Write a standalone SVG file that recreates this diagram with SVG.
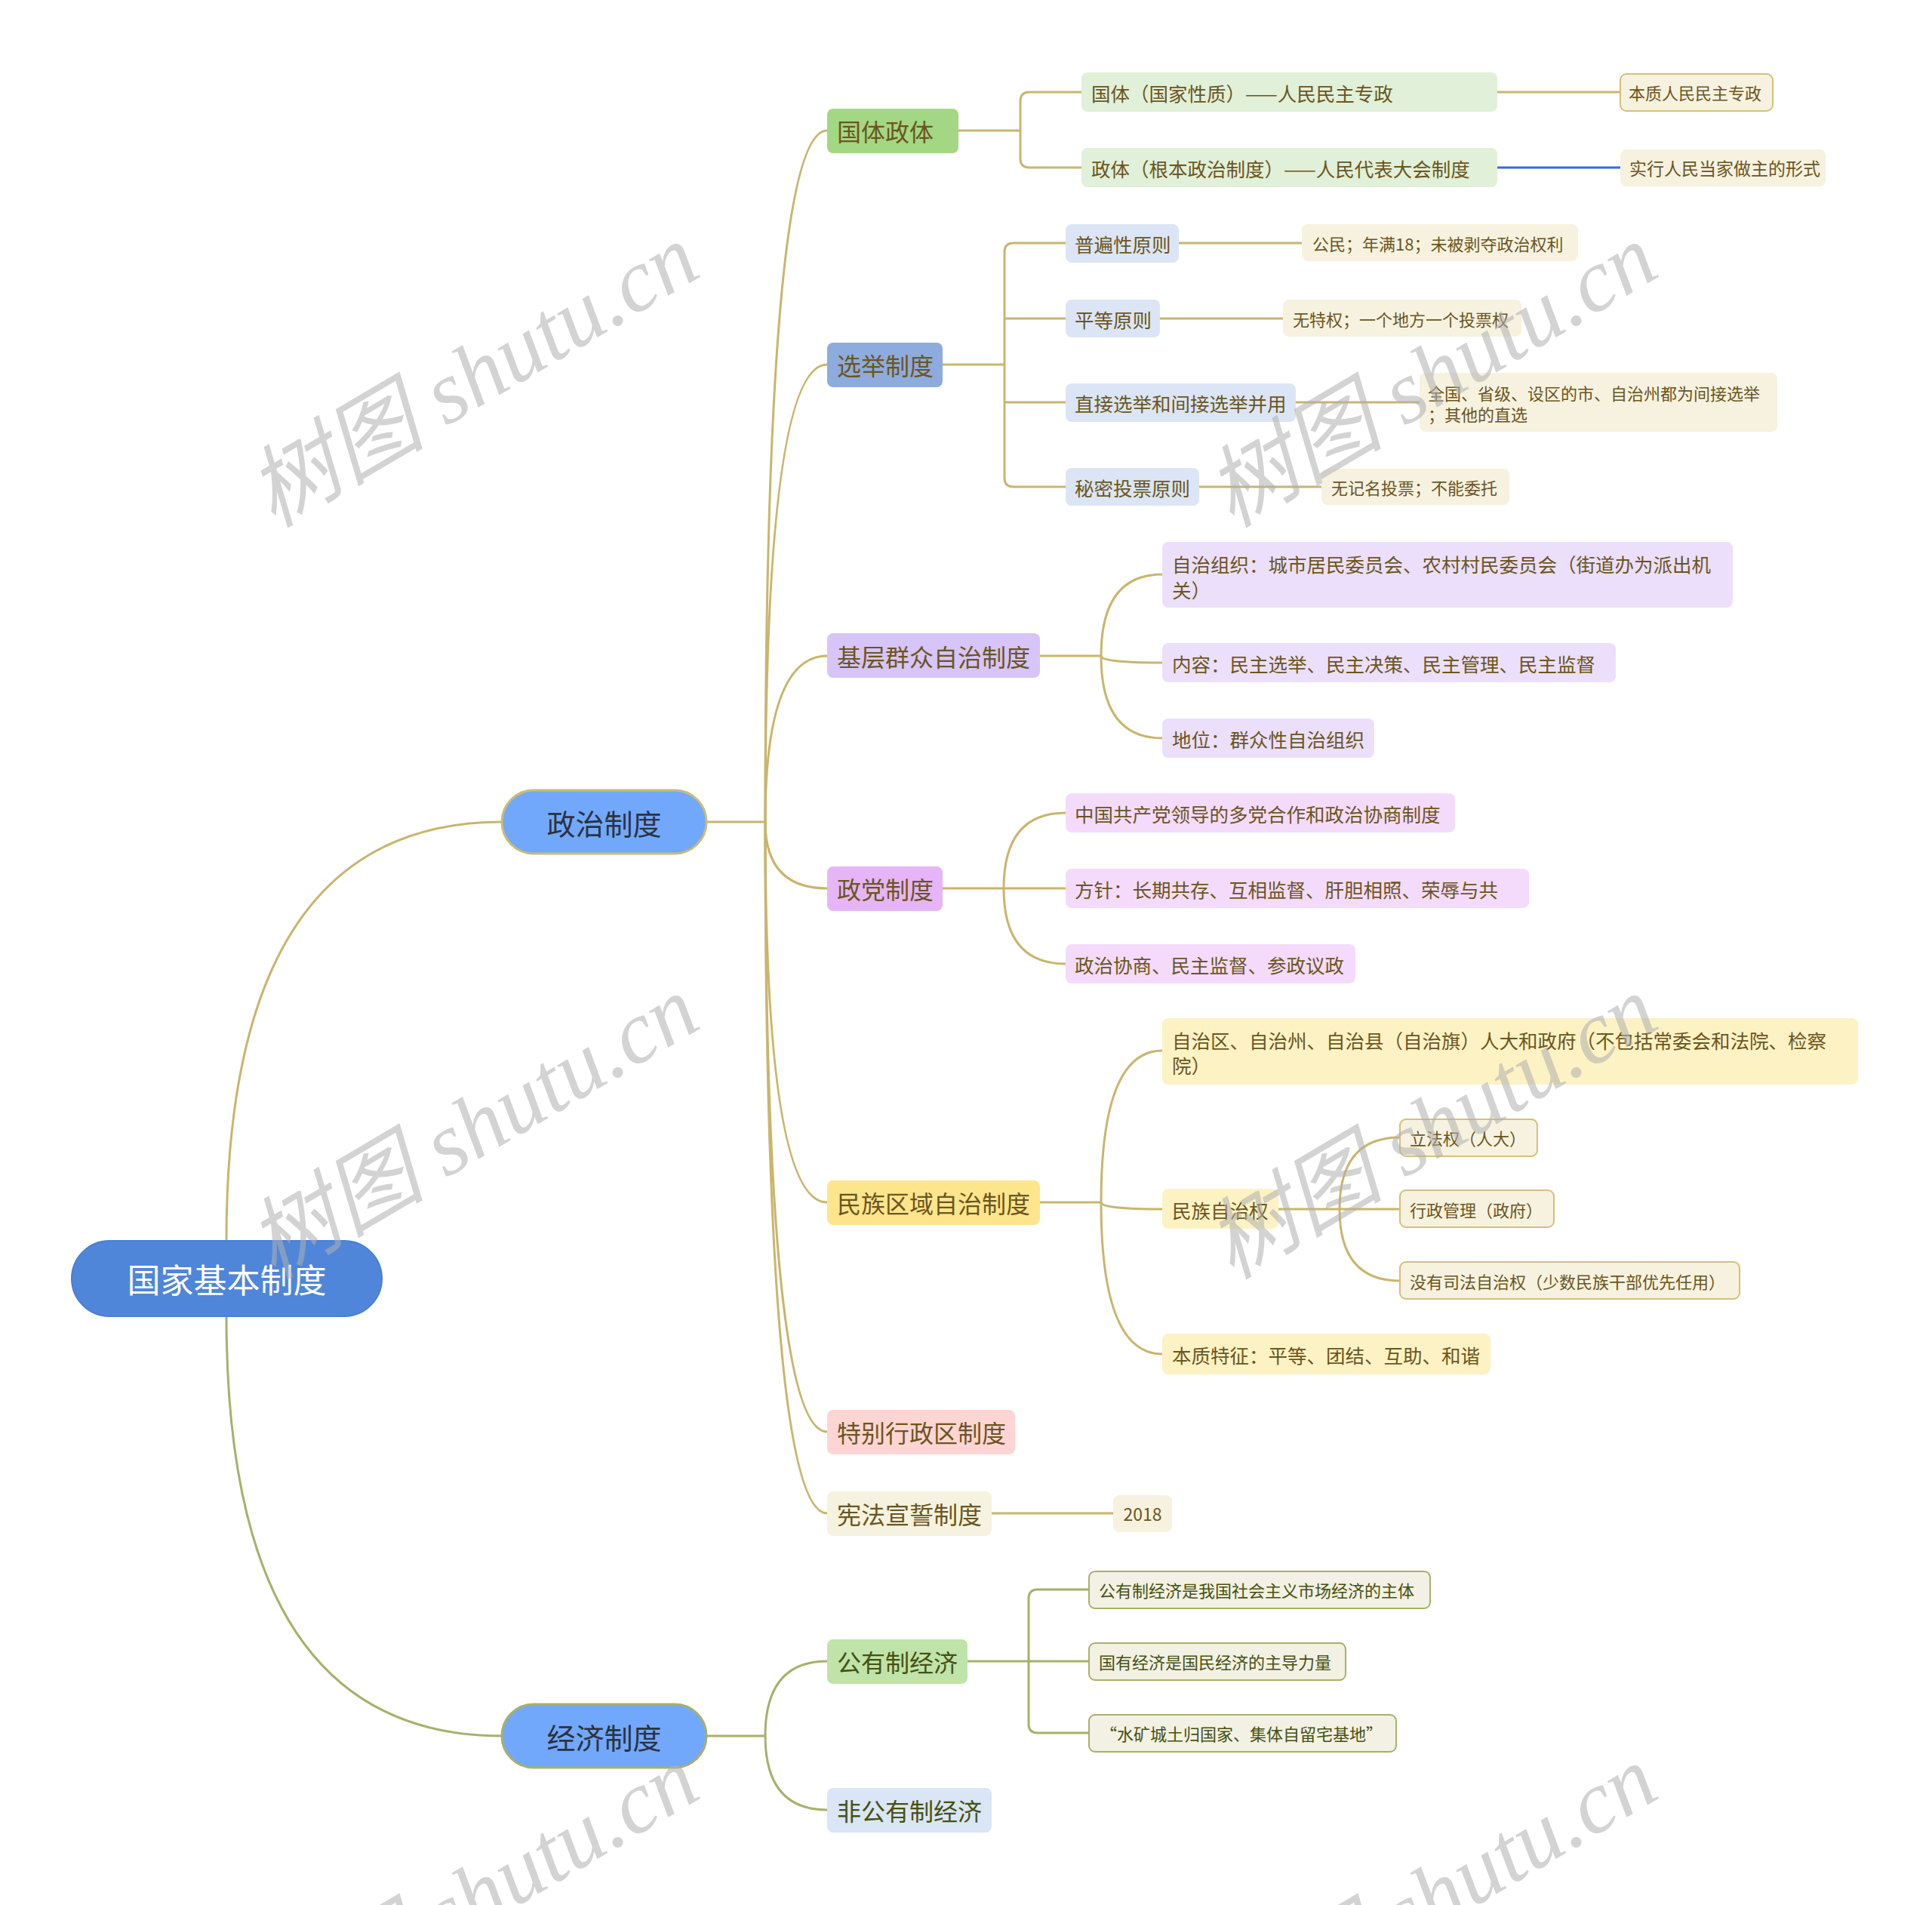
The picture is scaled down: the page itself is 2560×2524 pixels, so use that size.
<svg xmlns="http://www.w3.org/2000/svg" width="2560" height="2524" viewBox="0 0 2560 2524">
<style>
.t{font-family:"Noto Sans CJK SC","Noto Sans",sans-serif;dominant-baseline:central}
.pol{fill:#6b5520}
.eco{fill:#465012}
.l2{font-size:32px}
.l3{font-size:25.5px}
.l4{font-size:22px}
.g{fill:none;stroke:#c9b56c;stroke-width:3}
.o{fill:none;stroke:#a8b06a;stroke-width:3}
.wm{font-family:"Liberation Serif","Noto Sans CJK SC",serif;font-style:italic;font-size:118px;fill:#b0b0b0;opacity:0.55}
</style>
<rect width="2560" height="2524" fill="#ffffff"/>
<g id="connectors">
<path class="g" d="M300,1644 Q300,1089 665,1089" stroke-width="3.5"/>
<path class="o" d="M300,1744 Q300,2300 665,2300" stroke-width="3.5"/>
<path class="g" d="M936,1089 H1014"/>
<path class="g" d="M1014,1089 Q1014,173 1096,173"/>
<path class="g" d="M1014,1089 Q1014,483 1096,483"/>
<path class="g" d="M1014,1089 Q1014,869 1096,869"/>
<path class="g" d="M1014,1089 Q1014,1177 1096,1177"/>
<path class="g" d="M1014,1089 Q1014,1593 1096,1593"/>
<path class="g" d="M1014,1089 Q1014,1897 1096,1897"/>
<path class="g" d="M1014,1089 Q1014,2005 1096,2005"/>
<path class="o" d="M936,2300 H1014"/>
<path class="o" d="M1014,2300 Q1014,2201 1096,2201"/>
<path class="o" d="M1014,2300 Q1014,2398 1096,2398"/>
<path class="g" d="M1270,173 H1352"/>
<path class="g" d="M1433,122 H1364 Q1352,122 1352,134 V210 Q1352,222 1364,222 H1433"/>
<path class="g" d="M1984,122 H2147"/>
<path d="M1984,222 H2147" fill="none" stroke="#2f6fd8" stroke-width="3"/>
<path class="g" d="M1249,483 H1331"/>
<path class="g" d="M1412,322 H1343 Q1331,322 1331,334 V633 Q1331,645 1343,645 H1412"/>
<path class="g" d="M1331,422 H1412"/>
<path class="g" d="M1331,533 H1412"/>
<path class="g" d="M1562,322 H1725"/>
<path class="g" d="M1537,422 H1700"/>
<path class="g" d="M1717,533 H1881"/>
<path class="g" d="M1589,645 H1751"/>
<path class="g" d="M1378,869 H1459"/>
<path class="g" d="M1459,869 Q1459,761 1540,761"/>
<path class="g" d="M1459,869 Q1459,878 1540,878"/>
<path class="g" d="M1459,869 Q1459,978 1540,978"/>
<path class="g" d="M1249,1177 H1330"/>
<path class="g" d="M1330,1177 Q1330,1077 1412,1077"/>
<path class="g" d="M1330,1177 H1412"/>
<path class="g" d="M1330,1177 Q1330,1277 1412,1277"/>
<path class="g" d="M1378,1593 H1459"/>
<path class="g" d="M1459,1593 Q1459,1392 1540,1392"/>
<path class="g" d="M1459,1593 Q1459,1602 1540,1602"/>
<path class="g" d="M1459,1593 Q1459,1794 1540,1794"/>
<path class="g" d="M1694,1602 H1775"/>
<path class="g" d="M1775,1602 Q1775,1507 1855,1507"/>
<path class="g" d="M1775,1602 H1855"/>
<path class="g" d="M1775,1602 Q1775,1697 1855,1697"/>
<path class="g" d="M1314,2005 H1475"/>
<path class="o" d="M1282,2201 H1363"/>
<path class="o" d="M1443,2106 H1375 Q1363,2106 1363,2118 V2284 Q1363,2296 1375,2296 H1443"/>
<path class="o" d="M1363,2201 H1443"/>
</g>
<g id="root"><rect x="95" y="1644" width="411" height="100" rx="50" fill="#4f86d9" stroke="#4a7fd2" stroke-width="2"/><text class="t" x="300.5" y="1694" text-anchor="middle" font-size="44" fill="#ffffff">国家基本制度</text></g>
<g id="zhengzhi"><rect x="665" y="1047" width="271" height="84" rx="42" fill="#72a8fb" stroke="#cdbb72" stroke-width="3"/><text class="t" x="800.5" y="1089" text-anchor="middle" font-size="38" fill="#2b3340">政治制度</text></g>
<g id="jingji"><rect x="665" y="2258" width="271" height="84" rx="42" fill="#72a8fb" stroke="#a8b06a" stroke-width="3"/><text class="t" x="800.5" y="2300" text-anchor="middle" font-size="38" fill="#2b3340">经济制度</text></g>

<g id="guoti"><rect x="1096" y="144" width="174" height="59" rx="8" fill="#a3d783"/><text class="t l2 pol" x="1109" y="173">国体政体</text></g>
<g id="xuanju"><rect x="1096" y="454" width="153" height="59" rx="8" fill="#8eabdd"/><text class="t l2 pol" x="1109" y="483">选举制度</text></g>
<g id="jiceng"><rect x="1096" y="839" width="282" height="59" rx="8" fill="#d7c4f8"/><text class="t l2 pol" x="1109" y="869">基层群众自治制度</text></g>
<g id="zhengdang"><rect x="1096" y="1148" width="153" height="59" rx="8" fill="#e6b5f7"/><text class="t l2 pol" x="1109" y="1177">政党制度</text></g>
<g id="minzu"><rect x="1096" y="1564" width="282" height="59" rx="8" fill="#fde58c"/><text class="t l2 pol" x="1109" y="1593">民族区域自治制度</text></g>
<g id="tebie"><rect x="1096" y="1868" width="249" height="59" rx="8" fill="#ffd5d3"/><text class="t l2 pol" x="1109" y="1897">特别行政区制度</text></g>
<g id="xianfa"><rect x="1096" y="1976" width="218" height="59" rx="8" fill="#f5f2df"/><text class="t l2 pol" x="1109" y="2005">宪法宣誓制度</text></g>
<g id="gongyou"><rect x="1096" y="2172" width="186" height="59" rx="8" fill="#bfe3a8"/><text class="t l2 eco" x="1109" y="2201">公有制经济</text></g>
<g id="feigongyou"><rect x="1096" y="2369" width="218" height="59" rx="8" fill="#dae5f5"/><text class="t l2 eco" x="1109" y="2398">非公有制经济</text></g>

<g id="a1"><rect x="1433" y="96" width="551" height="52" rx="8" fill="#e1f0d8"/><text class="t l3 pol" x="1446" y="122">国体（国家性质）——人民民主专政</text></g>
<g id="a2"><rect x="1433" y="196" width="551" height="52" rx="8" fill="#e1f0d8"/><text class="t l3 pol" x="1446" y="222">政体（根本政治制度）——人民代表大会制度</text></g>
<g id="a1a"><rect x="2147" y="98" width="202" height="49" rx="8" fill="#f6f2df" stroke="#d4c07a" stroke-width="2"/><text class="t l4 pol" x="2158" y="122">本质人民民主专政</text></g>
<g id="a2a"><rect x="2147" y="198" width="272" height="49" rx="8" fill="#f6f2df"/><text class="t pol" font-size="23" x="2159" y="222">实行人民当家做主的形式</text></g>

<g id="b1"><rect x="1412" y="297" width="150" height="51" rx="8" fill="#dbe5f5"/><text class="t l3 pol" x="1424" y="322">普遍性原则</text></g>
<g id="b2"><rect x="1412" y="397" width="125" height="50" rx="8" fill="#dbe5f5"/><text class="t l3 pol" x="1424" y="422">平等原则</text></g>
<g id="b3"><rect x="1412" y="508" width="305" height="51" rx="8" fill="#dbe5f5"/><text class="t l3 pol" x="1424" y="533">直接选举和间接选举并用</text></g>
<g id="b4"><rect x="1412" y="620" width="177" height="50" rx="8" fill="#dbe5f5"/><text class="t l3 pol" x="1424" y="645">秘密投票原则</text></g>
<g id="b1a"><rect x="1725" y="297" width="366" height="49" rx="8" fill="#f6f2df"/><text class="t l4 pol" x="1739" y="322">公民；年满18；未被剥夺政治权利</text></g>
<g id="b2a"><rect x="1700" y="397" width="316" height="49" rx="8" fill="#f6f2df"/><text class="t l4 pol" x="1713" y="422">无特权；一个地方一个投票权</text></g>
<g id="b3a"><rect x="1881" y="494" width="474" height="78" rx="8" fill="#f6f2df"/><text class="t l4 pol" x="1892" y="520">全国、省级、设区的市、自治州都为间接选举</text><text class="t l4 pol" x="1892" y="548">；其他的直选</text></g>
<g id="b4a"><rect x="1751" y="621" width="249" height="48" rx="8" fill="#f6f2df"/><text class="t l4 pol" x="1764" y="645">无记名投票；不能委托</text></g>

<g id="c1"><rect x="1540" y="718" width="756" height="87" rx="8" fill="#ebdffb"/><text class="t l3 pol" x="1553" y="746">自治组织：城市居民委员会、农村村民委员会（街道办为派出机</text><text class="t l3 pol" x="1553" y="780">关）</text></g>
<g id="c2"><rect x="1540" y="852" width="601" height="52" rx="8" fill="#ebdffb"/><text class="t l3 pol" x="1553" y="878">内容：民主选举、民主决策、民主管理、民主监督</text></g>
<g id="c3"><rect x="1540" y="952" width="281" height="52" rx="8" fill="#ebdffb"/><text class="t l3 pol" x="1553" y="978">地位：群众性自治组织</text></g>

<g id="d1"><rect x="1412" y="1051" width="516" height="52" rx="8" fill="#f4dbfb"/><text class="t l3 pol" x="1424" y="1077">中国共产党领导的多党合作和政治协商制度</text></g>
<g id="d2"><rect x="1412" y="1151" width="614" height="52" rx="8" fill="#f4dbfb"/><text class="t l3 pol" x="1424" y="1177">方针：长期共存、互相监督、肝胆相照、荣辱与共</text></g>
<g id="d3"><rect x="1412" y="1251" width="384" height="52" rx="8" fill="#f4dbfb"/><text class="t l3 pol" x="1424" y="1277">政治协商、民主监督、参政议政</text></g>

<g id="e1"><rect x="1540" y="1349" width="922" height="88" rx="8" fill="#fdf2c4"/><text class="t l3 pol" x="1553" y="1377">自治区、自治州、自治县（自治旗）人大和政府（不包括常委会和法院、检察</text><text class="t l3 pol" x="1553" y="1410">院）</text></g>
<g id="e2"><rect x="1540" y="1575" width="154" height="53" rx="8" fill="#fdf2c4"/><text class="t l3 pol" x="1553" y="1602">民族自治权</text></g>
<g id="e3"><rect x="1540" y="1767" width="435" height="54" rx="8" fill="#fdf2c4"/><text class="t l3 pol" x="1553" y="1794">本质特征：平等、团结、互助、和谐</text></g>
<g id="e2a"><rect x="1855" y="1483" width="182" height="49" rx="8" fill="#f6f2df" stroke="#d4c07a" stroke-width="2"/><text class="t l4 pol" x="1868" y="1507">立法权（人大）</text></g>
<g id="e2b"><rect x="1855" y="1577" width="204" height="49" rx="8" fill="#f6f2df" stroke="#d4c07a" stroke-width="2"/><text class="t l4 pol" x="1868" y="1602">行政管理（政府）</text></g>
<g id="e2c"><rect x="1855" y="1672" width="450" height="49" rx="8" fill="#f6f2df" stroke="#d4c07a" stroke-width="2"/><text class="t l4 pol" x="1868" y="1697">没有司法自治权（少数民族干部优先任用）</text></g>

<g id="f1"><rect x="1475" y="1981" width="78" height="49" rx="8" fill="#f6f2df"/><text class="t pol" font-size="23" x="1514" y="2005" text-anchor="middle">2018</text></g>

<g id="g1"><rect x="1443" y="2082" width="452" height="49" rx="8" fill="#f2f1e3" stroke="#a8b06a" stroke-width="2"/><text class="t l4 eco" x="1456" y="2106">公有制经济是我国社会主义市场经济的主体</text></g>
<g id="g2"><rect x="1443" y="2177" width="340" height="49" rx="8" fill="#f2f1e3" stroke="#a8b06a" stroke-width="2"/><text class="t l4 eco" x="1456" y="2201">国有经济是国民经济的主导力量</text></g>
<g id="g3"><rect x="1443" y="2272" width="407" height="49" rx="8" fill="#f2f1e3" stroke="#a8b06a" stroke-width="2"/><text class="t l4 eco" x="1458" y="2296">“水矿城土归国家、集体自留宅基地”</text></g>

<g id="watermarks">
<text class="wm" transform="translate(362,700) rotate(-30.5)">树图 shutu.cn</text>
<text class="wm" transform="translate(1632,700) rotate(-30.5)">树图 shutu.cn</text>
<text class="wm" transform="translate(362,1696) rotate(-30.5)">树图 shutu.cn</text>
<text class="wm" transform="translate(1632,1696) rotate(-30.5)">树图 shutu.cn</text>
<text class="wm" transform="translate(362,2716) rotate(-30.5)">树图 shutu.cn</text>
<text class="wm" transform="translate(1632,2716) rotate(-30.5)">树图 shutu.cn</text>
</g>
</svg>
